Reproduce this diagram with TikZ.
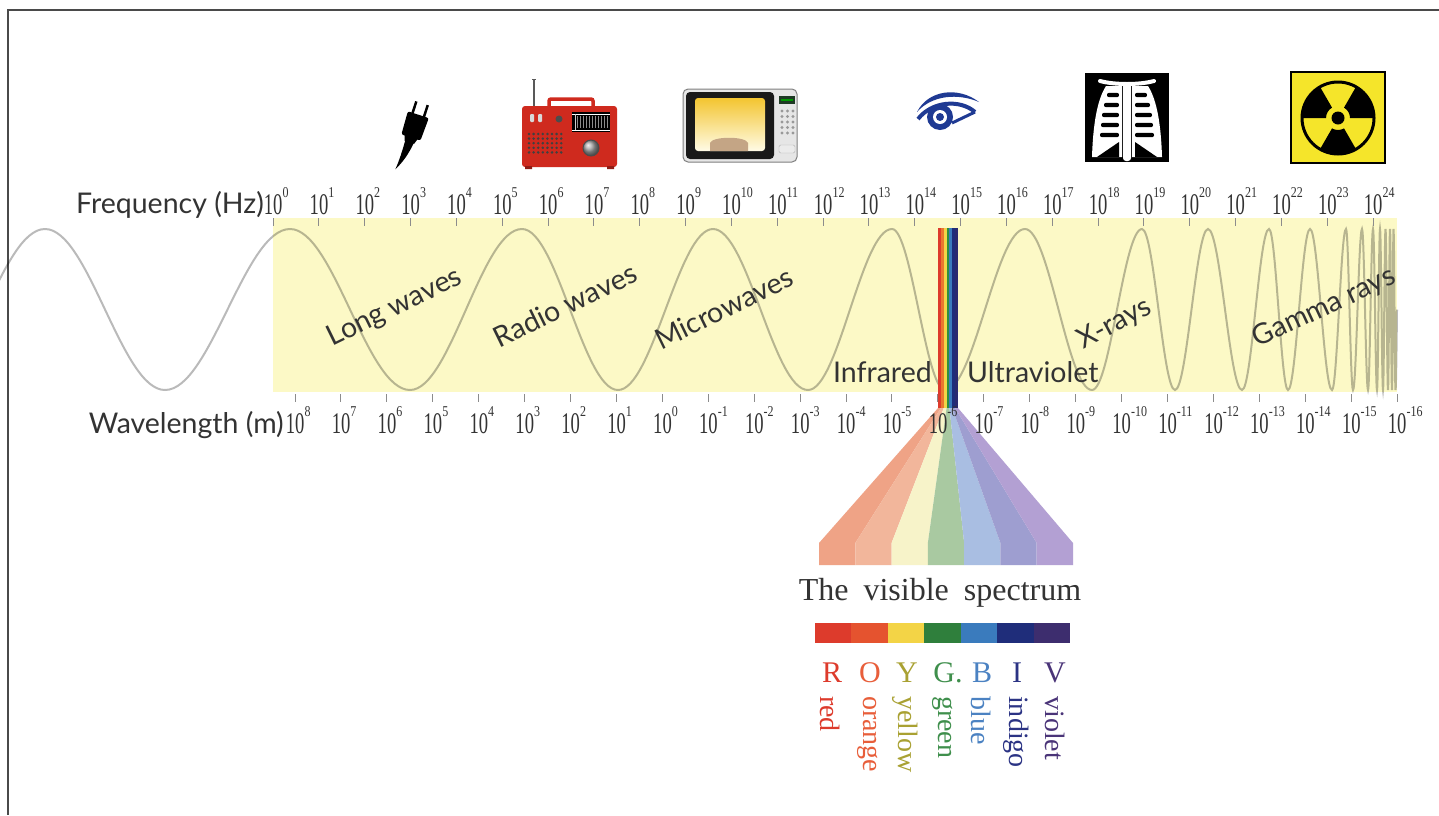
\documentclass[tikz,border=0pt]{standalone}
\usepackage{fontspec}
\usepackage{graphicx}
\newfontfamily\latofont{Lato}
\newfontfamily\numfont{Liberation Serif}

\definecolor{ink}{HTML}{333333}
\definecolor{framegray}{HTML}{4A4A4A}
\definecolor{bandyellow}{HTML}{FCF9C6}
\definecolor{tickgray}{HTML}{8C8C8C}
% strip / bar colours
\definecolor{sR}{HTML}{DD3B2C}
\definecolor{sO}{HTML}{E8772F}
\definecolor{sY}{HTML}{F2D448}
\definecolor{sG}{HTML}{2F8F3C}
\definecolor{sB}{HTML}{3A7BBD}
\definecolor{sI}{HTML}{1F2D7A}
\definecolor{sV}{HTML}{2A2A70}
\definecolor{bR}{HTML}{DD3B2C}
\definecolor{bO}{HTML}{E5532F}
\definecolor{bY}{HTML}{F3D446}
\definecolor{bG}{HTML}{2F7F3C}
\definecolor{bB}{HTML}{3A7BBD}
\definecolor{bI}{HTML}{1F2D7A}
\definecolor{bV}{HTML}{3D2D6E}
% fan colours
\definecolor{fR}{HTML}{EFA386}
\definecolor{fO}{HTML}{F2B69B}
\definecolor{fY}{HTML}{F7F3C9}
\definecolor{fG}{HTML}{A9C9A1}
\definecolor{fB}{HTML}{A9BEE2}
\definecolor{fI}{HTML}{9E9ED0}
\definecolor{fV}{HTML}{B3A0D3}
% letter colours
\definecolor{tR}{HTML}{DD3B2C}
\definecolor{tO}{HTML}{E85E3A}
\definecolor{tY}{HTML}{A9A132}
\definecolor{tG}{HTML}{3F8F4C}
\definecolor{tB}{HTML}{4B82C2}
\definecolor{tI}{HTML}{2B3384}
\definecolor{tV}{HTML}{4A3478}
% icon colours
\definecolor{radred}{HTML}{CF2A1E}
\definecolor{mwgray}{HTML}{E6E6E6}
\definecolor{mwtop}{HTML}{F3C530}
\definecolor{mwbot}{HTML}{FFFBE6}
\definecolor{food}{HTML}{C4A585}
\definecolor{dispgreen}{HTML}{1E3A24}
\definecolor{eyeblue}{HTML}{1F3A93}
\definecolor{radyellow}{HTML}{F5E52A}

\newcommand\lblsize{\latofont\fontsize{28.5}{32}\selectfont}
% powers of ten: condensed "10" with a raised exponent
\newcommand\supnum[1]{\raisebox{17pt}{\scalebox{0.8}[1]{\fontsize{15}{15}\selectfont#1}}}
\newcommand\pw[1]{{\numfont\scalebox{0.62}[1]{\fontsize{30}{30}\selectfont 10}\supnum{#1}}}
\newcommand\serifsize{\numfont\fontsize{30}{34}\selectfont}
\newcommand\titlesize{\numfont\fontsize{32}{36}\selectfont}
\newcommand\wordsize{\numfont\fontsize{28}{32}\selectfont}

\begin{document}
\begin{tikzpicture}[x=1pt,y=-1pt,
  lbl/.style={font=\lblsize, text=ink, inner sep=0pt},
  expo/.style={anchor=base west, inner sep=0pt, text=ink},
  tick/.style={draw=tickgray, line width=1},
  wave/.style={draw=black, draw opacity=0.27, line width=2},
  letter/.style={anchor=base, inner sep=0pt, font=\serifsize},
  word/.style={rotate=-90, anchor=west, inner sep=0pt, font=\wordsize}]

\useasboundingbox (0,0) rectangle (1439,815);
\fill[white] (0,0) rectangle (1439,815);

% frame
\draw[framegray, line width=2] (1439,10) -- (8,10) -- (8,815);

% spectrum band
\fill[bandyellow] (273,218) rectangle (1397,392);

% the wave, squeezing towards high frequencies
\begin{scope}
\clip (0,0) rectangle (1439,815);
\draw[wave] (-75,390)
  \foreach \x/\y [remember=\x as \lx (initially -75)] in
  {45/229, 165/390, 290/229, 410/390, 522/229, 618/390, 713/229, 808/390,
   892/229, 945/390, 1025/229, 1092/390, 1142/229, 1175/390, 1208/229,
   1242/390, 1269/229, 1288/390, 1310/229, 1332/390, 1346/229, 1353/390,
   1362/229, 1368/390, 1373/229, 1377/390, 1380/229, 1383/390, 1385.5/229,
   1388/390, 1390/229, 1392/390, 1393.5/229, 1395.5/390}
  { cos ({(\lx+\x)/2},309.5) sin (\x,\y) }
  cos (1397,309.5);
\end{scope}

% frequency scale
\node[lbl, anchor=base east] (freqlbl) at (264,213) {Frequency (Hz)};
\foreach \i in {0,...,24} {
  \draw[tick] ({273+45.833*\i},218) -- ++(0,8);
  \node[expo] (f\i) at ({273+45.833*\i-9.3},214) {\pw{\i}};
}

% wavelength ticks
\foreach \i in {0,...,24}
  \draw[tick] ({295+45.917*\i},394) -- ++(0,8);

% visible fan
\foreach \c [count=\k from 0] in {fR,fO,fY,fG,fB,fI,fV}
  \fill[\c] ({938+\k*20/7},408) -- ({819+\k*254/7},543) -- ({819+\k*254/7},565)
    -- ({819+(\k+1)*254/7},565) -- ({819+(\k+1)*254/7},543)
    -- ({938+(\k+1)*20/7},408) -- cycle;

% visible strip
\foreach \c [count=\k from 0] in {sR,sO,sY,sG,sB,sI,sV}
  \fill[\c] ({938+\k*20/7},228) rectangle ({938+(\k+1)*20/7},408);

% wavelength scale
\node[lbl, anchor=base east] (wavelbl) at (284,433) {Wavelength (m)};
\foreach \i [evaluate=\i as \e using int(8-\i)] in {0,...,24}
  \node[expo] (w\i) at ({295+45.917*\i-9.3},433) {\pw{\e}};

% band names
\node[lbl, rotate=26] (long) at (395,308) {Long waves};
\node[lbl, rotate=26] (radio) at (565,305) {Radio waves};
\node[lbl, rotate=26] (micro) at (724,308) {Microwaves};
\node[lbl, anchor=base west] (ir) at (833,382) {Infrared};
\node[lbl, anchor=base west] (uv) at (967,382) {Ultraviolet};
\node[lbl, rotate=28] (xray) at (1115,324) {X-rays};
\node[lbl, rotate=25] (gamma) at (1324,308) {Gamma rays};

% visible spectrum key
\node[anchor=base, inner sep=0pt, text=ink, font=\titlesize] (vis) at (940,600)
  {The\hspace{15pt}visible\hspace{15pt}spectrum};
\foreach \c [count=\k from 0] in {bR,bO,bY,bG,bB,bI,bV}
  \fill[\c] ({815+\k*255/7},623) rectangle ({815+(\k+1)*255/7},643);

\node[letter, text=tR] (lR) at (832,682) {R};
\node[letter, text=tO] (lO) at (870,682) {O};
\node[letter, text=tY] (lY) at (907,682) {Y};
\node[letter, text=tG] (lG) at (948,682) {G.};
\node[letter, text=tB] (lB) at (982,682) {B};
\node[letter, text=tI] (lI) at (1017,682) {I};
\node[letter, text=tV] (lV) at (1055,682) {V};

\node[word, text=tR] (red) at (830,696) {red};
\node[word, text=tO] (orange) at (868,696) {orange};
\node[word, text=tY] (yellow) at (905,696) {yellow};
\node[word, text=tG] (green) at (943,696) {green};
\node[word, text=tB] (blue) at (981,696) {blue};
\node[word, text=tI] (indigo) at (1016,696) {indigo};
\node[word, text=tV] (violet) at (1055,696) {violet};

% ---- icons ----
% plug
\begin{scope}[shift={(414,128)}, rotate=-18]
  \draw[black, line width=2.5] (-6,-13) -- (-6,-26) (6,-13) -- (6,-26);
  \fill[black, rounded corners=2] (-11,-14) -- (11,-14) -- (10,10) -- (-10,10) -- cycle;
  \fill[black] (-7,9) -- (7,9) -- (5,15) -- (-5,15) -- cycle;
  \fill[black] (-4.5,14) -- (4.5,14) .. controls (3,26) and (0,36) .. (-5,45)
    .. controls (-4,36) and (-4,26) .. (-4.5,14) -- cycle;
\end{scope}

% radio
\draw[black!65, line width=1.2] (534,106) -- (534,79);
\draw[black!65, line width=1] (532,79) -- (536,79);
\draw[radred, line width=3.5, rounded corners=2] (549,107) -- (549,99) -- (593,99) -- (593,107);
\fill[radred, rounded corners=3] (522,106) rectangle (617,167);
\fill[black] (572,112) rectangle (610,132);
\draw[white, line width=1] (572,114) -- (610,114) (572,130) -- (610,130);
\foreach \x in {577,580,...,607}
  \draw[black!45, line width=0.6] (\x,116) -- (\x,128);
\draw[white!80!black, line width=1] (575,114) -- (575,130);
\fill[black!15, rounded corners=1] (530,114) rectangle (534,122);
\fill[black!15, rounded corners=1] (538,114) rectangle (542,122);
\fill[black!70] (559,119) circle[radius=3.5pt];
\foreach \gx in {0,...,7}
  \foreach \gy in {0,...,4}
    \fill[black!75] ({529+\gx*4.6},{134+\gy*4.6}) circle[radius=1.4pt];
\shade[ball color=black!35] (591,148) circle[radius=8pt];
\draw[black!70, line width=1] (591,148) circle[radius=8pt];
\fill[radred!70!black] (525,166) rectangle (532,169) (607,166) rectangle (614,169);

% microwave oven
\filldraw[fill=mwgray, draw=black!50, line width=1, rounded corners=5] (683,89) rectangle (797,162);
\fill[black!90, rounded corners=4] (686,92) rectangle (774,159);
\shade[top color=mwtop, bottom color=mwbot, rounded corners=3] (695,98) rectangle (765,151);
\fill[food] (710,151) -- (710,143) .. controls (712,136) and (746,136) .. (748,143) -- (748,151) -- cycle;
\fill[dispgreen] (779,96) rectangle (795,104);
\fill[green!60!black] (781,99) rectangle (793,101);
\foreach \kc in {0,1,2}
  \foreach \kr in {0,...,4}
    \fill[black!40] ({782+\kc*5.5},{111+\kr*5.5}) circle[radius=1.7pt];
\filldraw[fill=black!8, draw=black!30, rounded corners=1.5] (779,145) rectangle (795,153);

% eye
\fill[eyeblue] (917,112) .. controls (928,90) and (958,86) .. (979,102)
  .. controls (958,93) and (932,95) .. (917,112) -- cycle;
\draw[eyeblue, line width=4] (918,119) .. controls (932,101) and (960,99) .. (975,112);
\draw[eyeblue, line width=3] (952,123) -- (975,112);
\fill[eyeblue] (940,117) circle[radius=13pt];
\fill[white] (940,117) circle[radius=7pt];
\fill[eyeblue] (940,117) circle[radius=4pt];

% x-ray
\fill[black] (1085,73) rectangle (1169,162);
\fill[white] (1122,86) -- (1106,86) .. controls (1097,100) and (1093,125) .. (1092,157) -- (1122,157) -- cycle;
\fill[white] (1132,86) -- (1148,86) .. controls (1157,100) and (1161,125) .. (1162,157) -- (1132,157) -- cycle;
\foreach \ry/\rw in {95/13, 105/16, 115/18, 125/19, 135/20} {
  \fill[black, rounded corners=2] ({1120-\rw},{\ry-2.2}) rectangle (1119,{\ry+2.2});
  \fill[black, rounded corners=2] (1135,{\ry-2.2}) rectangle ({1134+\rw},{\ry+2.2});
}
\fill[black] (1097,157) -- (1119,142) -- (1119,157) -- cycle;
\fill[black] (1157,157) -- (1135,142) -- (1135,157) -- cycle;
\fill[white, rounded corners=3] (1123,82) rectangle (1131,161);
\draw[white, line width=4, line cap=round] (1100,81) .. controls (1115,85) and (1139,85) .. (1154,81);

% radiation sign
\filldraw[fill=radyellow, draw=black, line width=2] (1291,72) rectangle (1385,163);
\begin{scope}[shift={(1338,118)}, x=1pt, y=1pt]
  \draw[black, line width=3] (0,0) circle[radius=36pt];
  \foreach \a in {0,120,240}
    \fill[black] (\a:12) -- (\a:36) arc[start angle=\a, end angle=\a+60, radius=36]
      -- ({\a+60}:12) arc[start angle=\a+60, end angle=\a, radius=12] -- cycle;
  \fill[black] (0,0) circle[radius=6.5pt];
\end{scope}

\end{tikzpicture}
\end{document}
